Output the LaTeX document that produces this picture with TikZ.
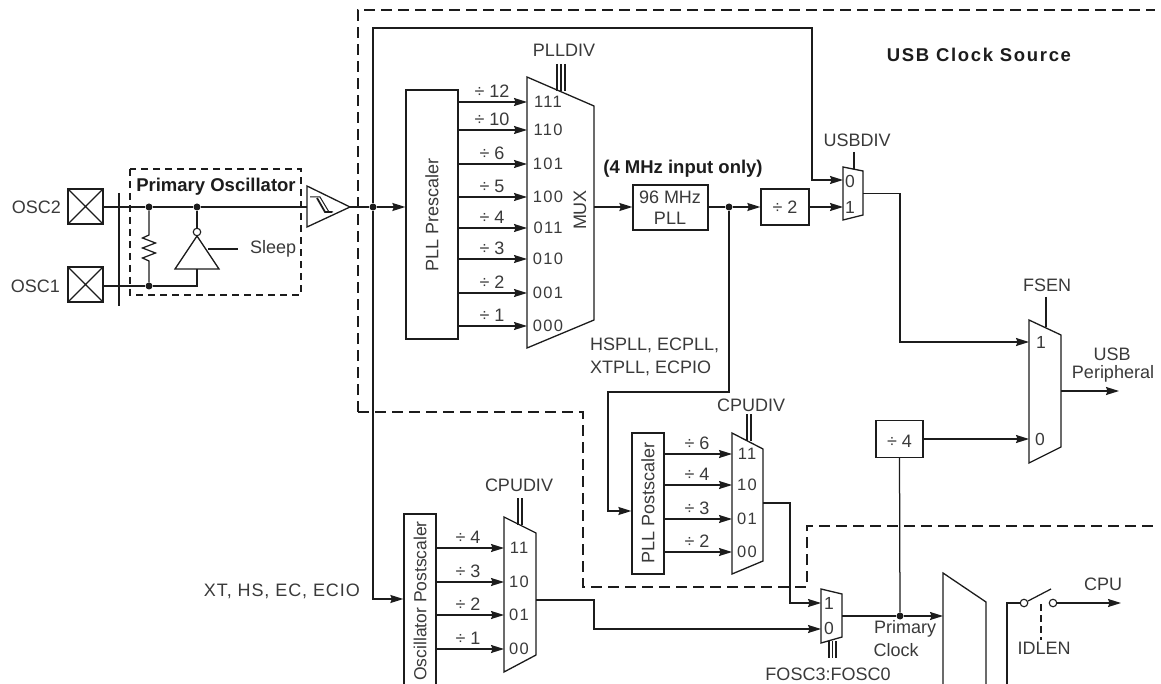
\documentclass[tikz,border=0pt]{standalone}
\usepackage{fontspec}
\setmainfont{Liberation Sans}
\newfontfamily\bitfont[LetterSpace=8]{Liberation Sans}
\newfontfamily\widefont[LetterSpace=5]{Liberation Sans}
\newfontfamily\titlefont[LetterSpace=9,BoldFont={Liberation Sans Bold}]{Liberation Sans}
\usetikzlibrary{arrows.meta,calc}
\definecolor{ink}{HTML}{1C1C1C}
\definecolor{txt}{HTML}{3A3A3A}
\tikzset{
  wire/.style={draw=ink,line width=1.25pt},
  arrowwire/.style={wire,-{Stealth[length=13pt,width=8pt,inset=1.5pt]}},
  block/.style={draw=ink,line width=1.3pt,fill=white,inner sep=0pt,anchor=center},
  muxbody/.style={draw=ink,line width=1.3pt,fill=white,line join=miter},
  regionline/.style={draw=ink,line width=1.2pt,dash pattern=on 11pt off 6pt},
  dashdense/.style={draw=ink,line width=1.6pt,dash pattern=on 7pt off 5pt},
  junction/.style={circle,fill=ink,draw=none,minimum size=7pt,inner sep=0pt},
  lab/.style={inner sep=0pt,text=txt,font=\fontsize{18}{20}\selectfont},
  bit/.style={lab,font=\bitfont\fontsize{16.5}{18}\selectfont},
  portbit/.style={lab,font=\fontsize{17.5}{18}\selectfont},
  boldlab/.style={inner sep=0pt,text=ink,font=\bfseries\fontsize{18.5}{20}\selectfont},
  ctrl/.style={wire,line width=1.1pt},
  pinbox/.style={draw=ink,line width=1.4pt,inner sep=0pt,minimum width=35pt,minimum height=35pt,
    path picture={\draw[ink,line width=1.1pt] (path picture bounding box.north west)--(path picture bounding box.south east)
      (path picture bounding box.north east)--(path picture bounding box.south west);}},
  bubble/.style={circle,draw=ink,fill=white,line width=1.1pt,minimum size=7.5pt,inner sep=0pt},
}
\begin{document}
\begin{tikzpicture}[x=1pt,y=-1pt]
\useasboundingbox (0,0) rectangle (1161,684);
\clip (0,0) rectangle (1161,684);
\fill[white] (0,0) rectangle (1161,684);

% dashed regions
\draw[regionline] (358,412)--(358,10)--(1155,10);
\draw[regionline] (358,412)--(583,412)--(583,587)--(807,587)--(807,526)--(1155,526);
\draw[dashdense] (130,169) rectangle (301,295);

% pins
\node[pinbox] (osc2) at (85.5,206.5) {};
\node[pinbox] (osc1) at (85.5,284.5) {};
\node[lab,anchor=east] (losc2) at (61,207) {OSC2};
\node[lab,anchor=east] (losc1) at (60,286) {OSC1};
\coordinate (bartop) at (119,193);
\coordinate (barbot) at (119,306);
\draw[ink,line width=2.8pt] (bartop)--(barbot);

% primary oscillator
\node[boldlab] (lprim) at (216,187) {Primary Oscillator};
\node[junction] (j1) at (149,207) {};
\node[junction] (j2) at (197,207) {};
\node[junction] (j3) at (149,286) {};
\coordinate (bufin) at (307,207);
\coordinate (bufout) at (350,207);
\draw[wire] (osc2.east |- j1) -- (j1) -- (j2) -- (bufin);
\draw[wire] (osc1.east |- j3) -- (j3);
\draw[wire] (j1) -- (149,235) -- (142.5,238) -- (155.5,243) -- (142.5,248) -- (155.5,253) -- (142.5,258) -- (149,261) -- (j3);
% inverter
\coordinate (invbase) at (197,269);
\draw[wire] (j3) -- (197,286) -- (invbase);
\draw[muxbody] (197,236) -- (219,269) -- (175,269) -- cycle;
\node[bubble] (invb) at (197,232) {};
\draw[wire] (j2) -- (invb);
\node[lab,anchor=west] (lsleep) at (250,249) {Sleep};
\coordinate (sleepin) at (208,249);
\draw[wire] (sleepin) -- (238,249);
% schmitt buffer
\draw[muxbody] (bufin |- 0,186) -- (bufout) -- (bufin |- 0,227) -- cycle;
\draw[ink,line width=1pt] (310,197)--(320,197)--(329,212)--(333,212);
\draw[ink,line width=1.8pt] (317,198)--(325,212)--(332,212);

\node[junction] (j4) at (373,207) {};
\draw[wire] (bufout) -- (j4);

% PLL prescaler
\node[block,minimum width=52pt,minimum height=249pt] (presc) at (432,214.5) {};
\node[lab,rotate=90] (lpresc) at (432,215) {PLL Prescaler};
\draw[arrowwire] (j4) -- (presc.west |- j4);

% main mux
\draw[muxbody] (527,77)--(594,106)--(594,320)--(527,348)--cycle;
\node[lab,rotate=90] (lmux) at (580,210) {MUX};
\node[lab] (lplldiv) at (564,50) {PLLDIV};
\foreach \xx in {557,561,565} \draw[ctrl] (\xx,64)--(\xx,91);
\foreach \yy/\dv/\bt/\nn in {102/12/111/a,130/10/110/b,164/6/101/c,197/5/100/d,228/4/011/e,259/3/010/f,293/2/001/g,326/1/000/h}{
  \coordinate (m\nn) at (527,\yy);
  \draw[arrowwire] (presc.east |- m\nn) -- (m\nn);
  \node[lab] (dv\nn) at (492,\yy-11) {÷ \dv};
  \node[bit] (bt\nn) at (548,\yy) {\bt};
}

% 96 MHz PLL
\node[block,minimum width=75pt,minimum height=45pt] (pll) at (670.5,207.5) {};
\node[lab] (l96) at (670,197) {96 MHz};
\node[lab] (lpll) at (670,218) {PLL};
\node[boldlab] (l4m) at (683,169) {(4 MHz input only)};
\coordinate (mout) at (594,207);
\draw[arrowwire] (mout) -- (pll.west |- mout);
\node[junction] (j5) at (729,207) {};
\draw[wire] (pll.east |- j5) -- (j5);
\node[block,minimum width=48pt,minimum height=36pt] (div2) at (785,207) {};
\node[lab] (ldiv2) at (785,207) {÷ 2};
\draw[arrowwire] (j5) -- (div2.west |- j5);

% USBDIV mux
\draw[muxbody] (843,167)--(863,171)--(863,215)--(843,220)--cycle;
\coordinate (u0) at (843,180);
\coordinate (u1) at (843,207);
\node[lab] (lusb) at (857,140) {USBDIV};
\draw[ctrl] (854,152)--(854,169);
\node[portbit] (bu0) at (850,181) {0};
\node[portbit] (bu1) at (850,207) {1};
\draw[arrowwire] (div2.east |- u1) -- (u1);
\draw[arrowwire] (j4) -- (373,28) -- (812,28) -- (812,180) -- (u0);

% FSEN mux
\draw[muxbody] (1029,320)--(1061,335)--(1061,447)--(1029,463)--cycle;
\coordinate (f1) at (1029,342);
\coordinate (f0) at (1029,439);
\coordinate (fout) at (1061,391);
\coordinate (pout) at (1119,391);
\node[lab] (lfsen) at (1047,285) {FSEN};
\draw[ctrl] (1046,297)--(1046,327);
\node[portbit] (bf1) at (1041,342) {1};
\node[portbit] (bf0) at (1040,439) {0};
\draw[arrowwire] (863,193.5) -- (900,193.5) -- (900,342) -- (f1);
\draw[arrowwire] (fout) -- (pout);
\node[lab] (lusbp) at (1112,354) {USB};
\node[lab] (lperi) at (1113,374) {Peripheral};

% div 4
\node[block,minimum width=47pt,minimum height=37pt] (div4) at (899.5,439) {};
\node[lab] (ldiv4) at (899.5,441) {÷ 4};
\draw[arrowwire] (div4.east |- f0) -- (f0);

% PLL path
\node[lab,anchor=west] (lhs) at (590,345) {HSPLL, ECPLL,};
\node[lab,anchor=west] (lxt) at (590,368) {XTPLL, ECPIO};

% PLL postscaler
\node[block,minimum width=32pt,minimum height=141pt] (ppost) at (648,503.5) {};
\node[lab,rotate=90] (lppost) at (648,503) {PLL Postscaler};
\draw[arrowwire] (j5) -- (729,392) -- (608,392) -- (608,511) -- (ppost.west |- 0,511);
\draw[muxbody] (732,433)--(763,449)--(763,561)--(732,574)--cycle;
\node[lab] (lcpu1) at (751,405) {CPUDIV};
\foreach \xx in {747,751} \draw[ctrl] (\xx,414)--(\xx,441);
\foreach \yy/\dv/\bt/\nn in {454/6/11/a,485/4/10/b,519/3/01/c,552/2/00/d}{
  \coordinate (q\nn) at (732,\yy);
  \draw[arrowwire] (ppost.east |- q\nn) -- (q\nn);
  \node[lab] (pd\nn) at (697,\yy-11) {÷ \dv};
  \node[bit] (pb\nn) at (747,\yy) {\bt};
}

% Oscillator postscaler
\node[block,minimum width=32pt,minimum height=180pt] (opost) at (420,604) {};
\node[lab,rotate=90,font=\fontsize{17.5}{20}\selectfont] (lopost) at (420,601) {Oscillator Postscaler};
\draw[arrowwire] (j4) -- (373,599) -- (opost.west |- 0,599);
\node[lab,anchor=east,font=\widefont\fontsize{18}{20}\selectfont] (lxths) at (360,591) {XT, HS, EC, ECIO};
\draw[muxbody] (504,517)--(536,533)--(536,655)--(504,672)--cycle;
\node[lab] (lcpu2) at (519,485) {CPUDIV};
\foreach \xx in {518,522} \draw[ctrl] (\xx,498)--(\xx,525);
\foreach \yy/\dv/\bt/\nn in {548/4/11/a,582/3/10/b,615/2/01/c,649/1/00/d}{
  \coordinate (o\nn) at (504,\yy);
  \draw[arrowwire] (opost.east |- o\nn) -- (o\nn);
  \node[lab] (od\nn) at (468,\yy-11) {÷ \dv};
  \node[bit] (ob\nn) at (519,\yy) {\bt};
}

% clock select mux
\draw[muxbody] (821,589)--(842,594)--(842,637)--(821,643)--cycle;
\coordinate (s1) at (821,603);
\coordinate (s0) at (821,629);
\node[portbit] (bs1) at (829,603) {1};
\node[portbit] (bs0) at (829,628) {0};
\foreach \xx in {829,832.5,836} \draw[ctrl] (\xx,641)--(\xx,658);
\node[lab] (lfosc) at (828,674) {FOSC3:FOSC0};
\draw[arrowwire] (763,503) -- (790,503) -- (790,603) -- (s1);
\draw[arrowwire] (536,600) -- (594,600) -- (594,629) -- (s0);

% primary clock
\node[junction] (j6) at (900,616) {};
\draw[wire] (842,616) -- (j6);
\draw[wire] (div4.south) -- (j6);
\coordinate (big) at (943,616);
\draw[arrowwire] (j6) -- (big);
\node[lab] (lprimc) at (905,629) {Primary};
\node[lab] (lclock) at (896,650) {Clock};
\draw[muxbody,fill=none] (943,700)--(943,573)--(986,602)--(986,700);

% CPU switch
\node[bubble] (swa) at (1024,603) {};
\node[bubble] (swb) at (1053,603) {};
\coordinate (cpu) at (1121,603);
\draw[wire] (1007,700)--(1007,603)--(swa);
\draw[wire] (1028,601)--(1051,589);
\draw[arrowwire] (swb)--(cpu);
\draw[ink,line width=1.1pt,dash pattern=on 7pt off 4pt] (1041,604)--(1041,640);
\node[lab] (lcpu) at (1103,584) {CPU};
\node[lab] (lidlen) at (1044,648) {IDLEN};

% title
\node[boldlab,font=\titlefont\bfseries\fontsize{18.5}{20}\selectfont] (ltitle) at (979,55) {USB Clock Source};
\end{tikzpicture}
\end{document}
